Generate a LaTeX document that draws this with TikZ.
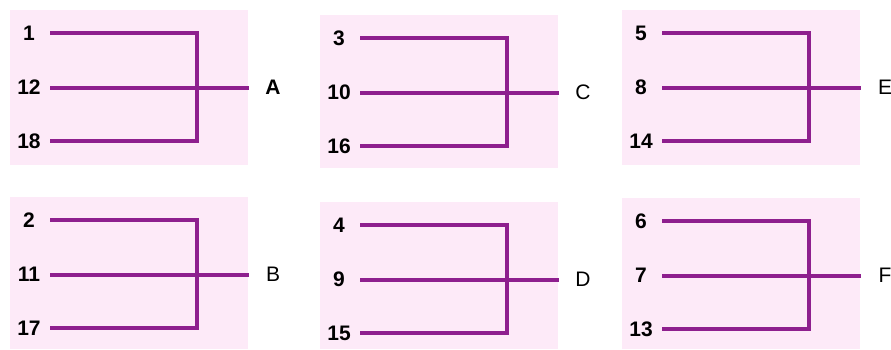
\documentclass[tikz,border=0pt]{standalone}
\usepackage{fontspec}
\setmainfont{Liberation Sans}
\definecolor{panelpink}{HTML}{FDEAF8}
\definecolor{linepurple}{HTML}{8E1F8E}
\tikzset{
  panel/.style={fill=panelpink, draw=none},
  branch/.style={draw=linepurple, line width=4pt, line join=miter},
  numlabel/.style={font=\bfseries\fontsize{21}{21}\selectfont, inner sep=0pt, anchor=center},
  letlabel/.style={inner sep=0pt, anchor=center},
}
\newcommand{\bracketpanel}[9]{%
  % #1 name, #2 x0, #3 y0, #4 height, #5-#7 numbers, #8 letter, #9 extra letter font
  \fill[panel] (#2,#3) rectangle ++(238,#4);
  \node[numlabel] (#1n1) at (#2+19,#3+23) {#5};
  \node[numlabel] (#1n2) at (#2+19,#3+77.5) {#6};
  \node[numlabel] (#1n3) at (#2+19,#3+131) {#7};
  \coordinate (#1s1) at (#2+40,#3+23);
  \coordinate (#1s2) at (#2+40,#3+77.5);
  \coordinate (#1s3) at (#2+40,#3+131);
  \coordinate (#1c1) at (#2+187,#3+23);
  \coordinate (#1c2) at (#2+187,#3+77.5);
  \coordinate (#1c3) at (#2+187,#3+131);
  \coordinate (#1e) at (#2+239,#3+77.5);
  \node[letlabel, font=#9\fontsize{21}{21}\selectfont] (#1L) at (#2+263,#3+77.5) {#8};
  \draw[branch] (#1s1) -- (#1c1) -- (#1c3) -- (#1s3);
  \draw[branch] (#1s2) -- (#1e);
}
\begin{document}
\begin{tikzpicture}[x=1pt,y=-1pt]
  \useasboundingbox (0,0) rectangle (891,349);
  \bracketpanel{a}{10}{10}{155}{1}{12}{18}{A}{\bfseries}
  \bracketpanel{c}{320}{15}{153}{3}{10}{16}{C}{}
  \bracketpanel{e}{622}{10}{155}{5}{8}{14}{E}{}
  \bracketpanel{b}{10}{197}{152}{2}{11}{17}{B}{}
  \bracketpanel{d}{320}{202}{147}{4}{9}{15}{D}{}
  \bracketpanel{f}{622}{198}{151}{6}{7}{13}{F}{}
\end{tikzpicture}
\end{document}
